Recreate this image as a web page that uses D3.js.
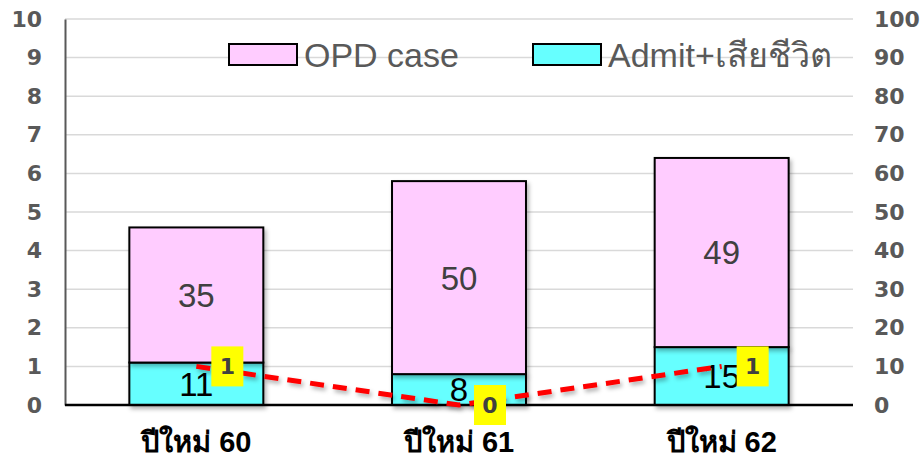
<!DOCTYPE html>
<html>
<head>
<meta charset="utf-8">
<script src="https://cdn.jsdelivr.net/npm/d3@7"></script>
<style>
  body { margin: 0; background: #fff; }
  svg { display: block; }
</style>
</head>
<body>
<svg id="chart"></svg>
<script>
// data
const categories = ["ปีใหม่ 60", "ปีใหม่ 61", "ปีใหม่ 62"];
const admitDeath = [11, 8, 15];   // right axis, bottom segment
const opdCase = [35, 50, 49];     // right axis, stacked on top
const deaths = [1, 0, 1];         // left axis, dashed line
const leftTicks = [0, 1, 2, 3, 4, 5, 6, 7, 8, 9, 10];
const rightTicks = [0, 10, 20, 30, 40, 50, 60, 70, 80, 90, 100];
const seriesNames = ["OPD case", "Admit+เสียชีวิต"];

const width = 920, height = 460;
const margin = { top: 19, right: 67, bottom: 55, left: 65 };
const colors = { opd: "#FFCCFF", admit: "#66FFFF" };

const svg = d3.select("#chart").attr("width", width).attr("height", height);

const defs = svg.append("defs");
defs.append("filter").attr("id", "shadow")
    .attr("x", "-10%").attr("y", "-10%").attr("width", "130%").attr("height", "150%")
  .append("feDropShadow")
    .attr("dx", 2).attr("dy", 3).attr("stdDeviation", 2)
    .attr("flood-color", "#000").attr("flood-opacity", 0.3);

const x = d3.scaleBand()
    .domain(categories)
    .range([margin.left, width - margin.right])
    .paddingInner(0.49)
    .paddingOuter(0.245);

const yLeft = d3.scaleLinear().domain([0, 10]).range([height - margin.bottom, margin.top]);
const yRight = d3.scaleLinear().domain([0, 100]).range([height - margin.bottom, margin.top]);

// gridlines
svg.append("g")
  .selectAll("line")
  .data(leftTicks.slice(1))
  .join("line")
    .attr("x1", margin.left).attr("x2", width - margin.right)
    .attr("y1", d => yLeft(d)).attr("y2", d => yLeft(d))
    .attr("stroke", "#d9d9d9").attr("stroke-width", 1.5);

// left axis
const leftAxis = svg.append("g")
    .attr("transform", `translate(${margin.left},0)`)
    .call(d3.axisLeft(yLeft).tickValues(leftTicks).tickSize(0).tickPadding(23));
leftAxis.select(".domain").attr("stroke", "#595959").attr("stroke-width", 2);
leftAxis.selectAll("text")
    .style("font-family", "'DejaVu Sans', sans-serif")
    .style("font-weight", "bold")
    .style("font-size", "22px")
    .attr("fill", "#595959");

// right axis
const rightAxis = svg.append("g")
    .attr("transform", `translate(${width - margin.right},0)`)
    .call(d3.axisRight(yRight).tickValues(rightTicks).tickSize(0).tickPadding(21));
rightAxis.select(".domain").remove();
rightAxis.selectAll("text")
    .style("font-family", "'DejaVu Sans', sans-serif")
    .style("font-weight", "bold")
    .style("font-size", "22px")
    .attr("fill", "#595959");

// stacked bars
const rows = categories.map((c, i) => ({ cat: c, admit: admitDeath[i], opd: opdCase[i] }));
const stack = d3.stack().keys(["admit", "opd"])(rows);

const barG = svg.append("g");
stack.forEach(layer => {
  barG.append("g")
    .selectAll("rect")
    .data(layer)
    .join("rect")
      .attr("x", d => x(d.data.cat))
      .attr("width", x.bandwidth())
      .attr("y", d => yRight(d[1]))
      .attr("height", d => yRight(d[0]) - yRight(d[1]))
      .attr("fill", colors[layer.key])
      .attr("stroke", "#000")
      .attr("stroke-width", 2)
      .attr("filter", "url(#shadow)");
});

// bar value labels
stack.forEach(layer => {
  barG.append("g")
    .selectAll("text")
    .data(layer)
    .join("text")
      .attr("x", d => x(d.data.cat) + x.bandwidth() / 2)
      .attr("y", d => (yRight(d[0]) + yRight(d[1])) / 2)
      .attr("dy", "0.36em")
      .attr("text-anchor", "middle")
      .style("font-family", "'Liberation Sans', 'Noto Sans', sans-serif")
      .style("font-size", "33px")
      .attr("fill", layer.key === "opd" ? "#404040" : "#000")
      .text(d => d[1] - d[0]);
});

// bottom axis line
svg.append("line")
    .attr("x1", margin.left).attr("x2", width - margin.right)
    .attr("y1", yLeft(0)).attr("y2", yLeft(0))
    .attr("stroke", "#000").attr("stroke-width", 2.5);

// category labels
svg.append("g")
  .selectAll("text")
  .data(categories)
  .join("text")
    .attr("x", d => x(d) + x.bandwidth() / 2)
    .attr("y", 452)
    .attr("text-anchor", "middle")
    .style("font-family", "'Liberation Sans', 'Noto Sans', sans-serif")
    .style("font-weight", "bold")
    .style("font-size", "29px")
    .attr("fill", "#000")
    .text(d => d);

// dashed line (left axis)
const line = d3.line()
    .x((d, i) => x(categories[i]) + x.bandwidth() / 2)
    .y(d => yLeft(d));

svg.append("path")
    .datum(deaths)
    .attr("d", line)
    .attr("fill", "none")
    .attr("stroke", "#FF0000")
    .attr("stroke-width", 5)
    .attr("stroke-dasharray", "14 9")
    .attr("filter", "url(#shadow)");

// yellow data labels
const lab = svg.append("g")
  .selectAll("g")
  .data(deaths)
  .join("g")
    .attr("transform", (d, i) => `translate(${x(categories[i]) + x.bandwidth() / 2 + 31},${yLeft(d)})`);
lab.append("rect")
    .attr("x", -16).attr("y", -20).attr("width", 32).attr("height", 40)
    .attr("fill", "#FFFF00");
lab.append("text")
    .attr("text-anchor", "middle")
    .attr("dy", "0.36em")
    .style("font-family", "'DejaVu Sans', sans-serif")
    .style("font-weight", "bold")
    .style("font-size", "22px")
    .attr("fill", "#404040")
    .text(d => d);

// legend
const legendX = [229, 533];
const legendColors = [colors.opd, colors.admit];
const legend = svg.append("g")
  .selectAll("g")
  .data(seriesNames)
  .join("g")
    .attr("transform", (d, i) => `translate(${legendX[i]},44)`);
legend.append("rect")
    .attr("width", 68).attr("height", 21)
    .attr("fill", (d, i) => legendColors[i])
    .attr("stroke", "#000").attr("stroke-width", 2);
legend.append("text")
    .attr("x", 75).attr("y", 10.5)
    .attr("dy", "0.36em")
    .style("font-family", "'Liberation Sans', 'Noto Sans', sans-serif")
    .style("font-size", "34px")
    .attr("fill", "#595959")
    .text(d => d);
</script>
</body>
</html>
